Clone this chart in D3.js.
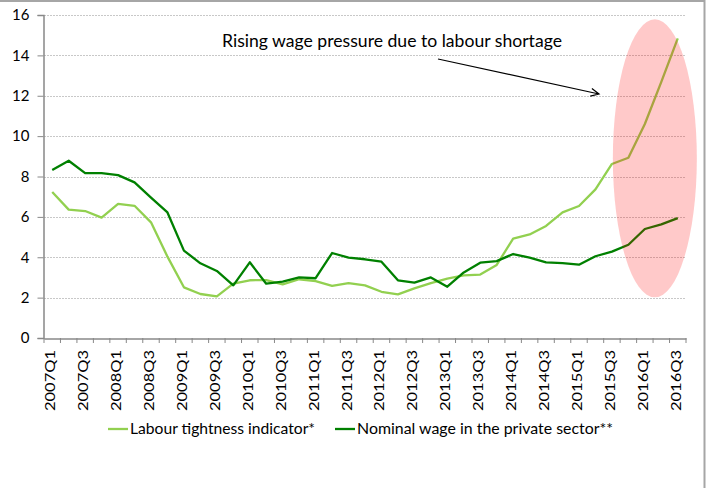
<!DOCTYPE html>
<html>
<head>
<meta charset="utf-8">
<script src="https://cdn.jsdelivr.net/npm/d3@7"></script>
<style>
  body { margin: 0; background: #fff; }
  svg { display: block; font-family: Lato, "Open Sans", sans-serif; }
</style>
</head>
<body>
<div id="chart"></div>
<script>
// quarters 2007Q1 .. 2016Q3
const years = d3.range(2007, 2017)
const quarters = []
years.forEach(function (y) {
    [1, 2, 3, 4].forEach(function (q) {
        if (y === 2016 && q === 4) return
        quarters.push(y + "Q" + q)
    })
})

const tightness = [7.23, 6.36, 6.29, 5.96, 6.64, 6.55, 5.73, 4.03, 2.51, 2.18,
    2.06, 2.69, 2.86, 2.87, 2.66, 2.91, 2.82, 2.58, 2.72, 2.61,
    2.29, 2.16, 2.46, 2.72, 2.94, 3.1, 3.14, 3.62, 4.92, 5.13,
    5.55, 6.22, 6.54, 7.36, 8.62, 8.93, 10.6, 12.69, 14.84]

const wage = [8.32, 8.78, 8.17, 8.17, 8.07, 7.71, 6.95, 6.22, 4.33, 3.70,
    3.32, 2.61, 3.75, 2.69, 2.79, 3.0, 2.96, 4.21, 3.98, 3.90,
    3.78, 2.86, 2.74, 3.0, 2.54, 3.25, 3.73, 3.81, 4.16, 3.98,
    3.75, 3.71, 3.63, 4.05, 4.28, 4.62, 5.40, 5.63, 5.94]

const yTicks = [0, 2, 4, 6, 8, 10, 12, 14, 16]

const series = [
    { name: "Labour tightness indicator*", values: tightness, color: "#92d050" },
    { name: "Nominal wage in the private sector**", values: wage, color: "#008000" }
]

const annotation = "Rising wage pressure due to labour shortage"

const W = 706, H = 488
const plot = { left: 44, right: 686, top: 15, bottom: 338 }

const svg = d3.select("#chart").append("svg")
    .attr("width", W)
    .attr("height", H)

// outer frame (left and bottom sit outside the picture)
svg.append("path")
    .attr("d", "M-2,1H704.5V" + (H + 2))
    .attr("fill", "none")
    .attr("stroke", "#a6a6a6")
    .attr("stroke-width", 2)

const x = d3.scaleBand()
    .domain(quarters)
    .range([plot.left, plot.right])

const y = d3.scaleLinear()
    .domain([0, 16])
    .range([plot.bottom, plot.top])

// gridlines
svg.append("g")
    .selectAll("line")
    .data(yTicks.filter(function (d) { return d > 0 }))
    .enter().append("line")
    .attr("x1", plot.left)
    .attr("x2", plot.right)
    .attr("y1", function (d) { return Math.round(y(d)) + 0.5 })
    .attr("y2", function (d) { return Math.round(y(d)) + 0.5 })
    .attr("stroke", "#c8c8c8")
    .attr("stroke-dasharray", "2,1")

// y axis
const yAxis = svg.append("g")
    .attr("transform", "translate(" + (plot.left - 0.5) + ",0)")
    .call(d3.axisLeft(y).tickValues(yTicks).tickSize(6).tickPadding(8))
yAxis.select(".domain").attr("stroke", "#888").attr("stroke-width", 1.5)
yAxis.selectAll(".tick line").attr("stroke", "#888")
yAxis.selectAll(".tick text")
    .attr("fill", "#000")
    .style("font-size", "15px")
    .style("font-family", "Lato, sans-serif")

// x axis
const xAxis = svg.append("g")
    .attr("transform", "translate(0," + (plot.bottom + 0.5) + ")")
    .call(d3.axisBottom(x).tickSize(0).tickFormat(""))
xAxis.select(".domain").attr("stroke", "#888").attr("stroke-width", 1.5)

// tick marks between categories
svg.append("g")
    .selectAll("line")
    .data(quarters.concat([null]))
    .enter().append("line")
    .attr("x1", function (d, i) { return plot.left + i * x.step() })
    .attr("x2", function (d, i) { return plot.left + i * x.step() })
    .attr("y1", plot.bottom)
    .attr("y2", plot.bottom + 5)
    .attr("stroke", "#888")

// rotated category labels, every second quarter
svg.append("g")
    .selectAll("text")
    .data(quarters.filter(function (d, i) { return i % 2 === 0 }))
    .enter().append("text")
    .attr("transform", function (d) {
        return "translate(" + (x(d) + x.bandwidth() / 2 + 3) + "," + (plot.bottom + 12) + ") rotate(-90)"
    })
    .attr("text-anchor", "end")
    .attr("textLength", 61)
    .attr("lengthAdjust", "spacingAndGlyphs")
    .style("font-size", "12.5px")
    .text(function (d) { return d })

// lines
const line = d3.line()
    .x(function (d, i) { return x(quarters[i]) + x.bandwidth() / 2 })
    .y(function (d) { return y(d) })

svg.append("g")
    .selectAll("path")
    .data(series)
    .enter().append("path")
    .attr("d", function (d) { return line(d.values) })
    .attr("fill", "none")
    .attr("stroke", function (d) { return d.color })
    .attr("stroke-width", 2.3)
    .attr("stroke-linejoin", "round")

// highlight ellipse over the last quarters
svg.append("ellipse")
    .attr("cx", x("2016Q1") + x.bandwidth() / 2 + 10)
    .attr("cy", y(8.9))
    .attr("rx", 42)
    .attr("ry", 139)
    .attr("fill", "#ff0000")
    .attr("fill-opacity", 0.21)

// annotation + arrow
svg.append("text")
    .attr("x", 222)
    .attr("y", 47)
    .attr("textLength", 340)
    .attr("lengthAdjust", "spacingAndGlyphs")
    .style("font-size", "17px")
    .text(annotation)

const ax0 = 438, ay0 = 59, ax1 = 599, ay1 = 94
const ang = Math.atan2(ay1 - ay0, ax1 - ax0)
const head = 9
svg.append("path")
    .attr("d", "M" + ax0 + "," + ay0 + "L" + ax1 + "," + ay1 +
        "M" + (ax1 - head * Math.cos(ang - 0.45)) + "," + (ay1 - head * Math.sin(ang - 0.45)) +
        "L" + ax1 + "," + ay1 +
        "L" + (ax1 - head * Math.cos(ang + 0.45)) + "," + (ay1 - head * Math.sin(ang + 0.45)))
    .attr("fill", "none")
    .attr("stroke", "#000")
    .attr("stroke-width", 1.2)

// legend
const legendPos = [{ x: 108, w: 185 }, { x: 335, w: 256 }]
const legend = svg.append("g")
    .selectAll("g")
    .data(series)
    .enter().append("g")
    .attr("transform", function (d, i) { return "translate(" + legendPos[i].x + ",429)" })

legend.append("line")
    .attr("x1", 0).attr("x2", 20)
    .attr("stroke", function (d) { return d.color })
    .attr("stroke-width", 2.3)

legend.append("text")
    .attr("x", 22)
    .attr("y", 5)
    .attr("textLength", function (d, i) { return legendPos[i].w })
    .attr("lengthAdjust", "spacingAndGlyphs")
    .style("font-size", "15px")
    .text(function (d) { return d.name })
</script>
</body>
</html>
